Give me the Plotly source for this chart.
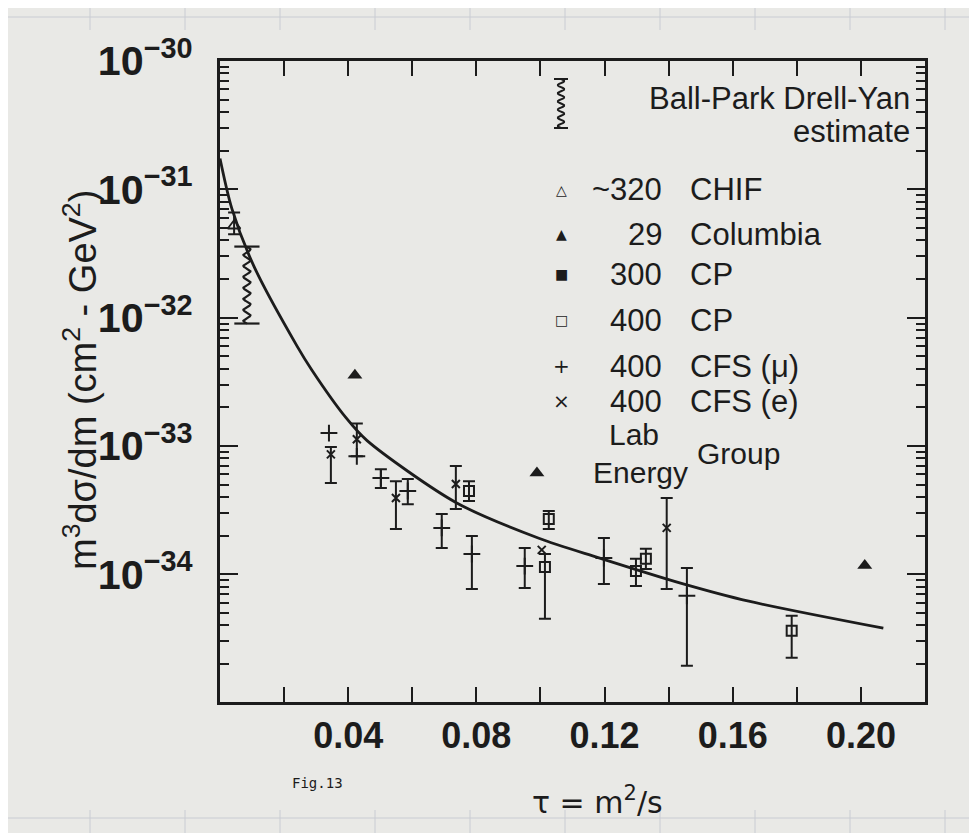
import numpy as np
import plotly.graph_objects as go

# ---------------- data ----------------
# smooth Drell-Yan type curve
curve_tau = [0.0, 0.0037, 0.0106, 0.0240, 0.0287, 0.0393, 0.0459, 0.0736,
             0.0995, 0.1180, 0.1440, 0.1650, 0.2070]
curve_val = [1.74e-31, 7.08e-32, 2.51e-32, 6.03e-33, 3.89e-33, 1.66e-33, 1.10e-33,
             3.63e-34, 1.91e-34, 1.35e-34, 8.5e-35, 6.17e-35, 3.8e-35]

# Ball-park Drell-Yan estimate band
dy_tau = 0.0084
dy_hi = 3.58e-32
dy_lo = 9.0e-33

# ~320 GeV CHIF (open triangle)
chif_tau = [0.0044]
chif_val = [5.2e-32]
chif_hi = [6.6e-32]
chif_lo = [4.46e-32]

# 29 GeV Columbia (filled triangles)
col_tau = [0.0421, 0.0989, 0.2012]
col_val = [3.56e-33, 6.17e-34, 1.17e-34]

# 400 GeV CP (open squares)
cp_tau = [0.0777, 0.1026, 0.1014, 0.1298, 0.1329, 0.1784]
cp_val = [4.46e-34, 2.70e-34, 1.14e-34, 1.06e-34, 1.32e-34, 3.63e-35]
cp_hi = [5.32e-34, 3.11e-34, 1.44e-34, 1.32e-34, 1.58e-34, 4.75e-35]
cp_lo = [3.72e-34, 2.25e-34, 4.5e-35, 8.1e-35, 1.10e-34, 2.24e-35]

# 400 GeV CFS (mu) (plus)
mu_tau = [0.0340, 0.0427, 0.0502, 0.0586, 0.0692, 0.0786, 0.0951, 0.1198, 0.1457]
mu_val = [1.26e-33, 8.3e-34, 5.62e-34, 4.46e-34, 2.30e-34, 1.44e-34, 1.16e-34, 1.34e-34, 6.8e-35]
mu_hi = [1.26e-33, 8.3e-34, 6.6e-34, 5.52e-34, 2.95e-34, 1.99e-34, 1.60e-34, 1.92e-34, 1.12e-34]
mu_lo = [1.26e-33, 8.3e-34, 4.7e-34, 3.52e-34, 1.60e-34, 7.7e-35, 7.83e-35, 8.4e-35, 1.94e-35]

# 400 GeV CFS (e) (cross)
e_tau = [0.0346, 0.0427, 0.0549, 0.0736, 0.1004, 0.1394]
e_val = [8.6e-34, 1.13e-33, 3.93e-34, 5.05e-34, 1.55e-34, 2.30e-34]
e_hi = [9.8e-34, 1.50e-33, 5.32e-34, 6.97e-34, 1.55e-34, 3.93e-34]
e_lo = [5.14e-34, 8.3e-34, 2.25e-34, 3.23e-34, 1.55e-34, 7.7e-35]

x_tickvals = [0.04, 0.08, 0.12, 0.16, 0.20]
x_ticktext = ["0.04", "0.08", "0.12", "0.16", "0.20"]

legend_rows = [("\u25b3", "~320", "CHIF"),
               ("\u25b2", "29", "Columbia"),
               ("\u25a0", "300", "CP"),
               ("\u25a1", "400", "CP"),
               ("+", "400", "CFS (\u03bc)"),
               ("\u00d7", "400", "CFS (e)")]

# ---------------- layout geometry (page pixel coordinates) ----------------
PAGE_W, PAGE_H = 977, 833
OFF = 8                      # browser body margin
W, H = PAGE_W - OFF, PAGE_H - OFF
PL, PR, PT, PB = 220, 925, 61, 702   # plot frame on the page
BG = "#e9e9e6"
INK = "#1c1c1c"
SANS = "Liberation Sans, Arial, Helvetica, sans-serif"


def px(xp):
    return (xp - PL) / (PR - PL)


def py(yp):
    return (PB - yp) / (PB - PT)


fig = go.Figure()

# curve
fig.add_trace(go.Scatter(x=curve_tau, y=curve_val, mode="lines",
                         line=dict(color=INK, width=2.8, shape="spline", smoothing=0.8),
                         hoverinfo="skip"))

# Drell-Yan wavy band (decorative wave between the two band limits)
n = 200
t = np.linspace(0, 1, n)
wave_y = np.exp(np.log(dy_hi) + (np.log(dy_lo) - np.log(dy_hi)) * t)
wave_x = dy_tau + 0.0011 * np.sin(2 * np.pi * 7 * t)
fig.add_trace(go.Scatter(x=wave_x, y=wave_y, mode="lines",
                         line=dict(color=INK, width=2.2), hoverinfo="skip"))
fig.add_trace(go.Scatter(x=[dy_tau, dy_tau], y=[dy_hi, dy_lo], mode="markers",
                         marker=dict(symbol="line-ew", size=18,
                                     line=dict(color=INK, width=2.2)),
                         hoverinfo="skip"))


def add_points(xs, ys, his, los, marker):
    xs, ys, his, los = map(np.asarray, (xs, ys, his, los))
    bar = (his > ys) | (los < ys)
    if bar.any():
        fig.add_trace(go.Scatter(
            x=xs[bar], y=ys[bar], mode="markers", marker=marker,
            error_y=dict(type="data", symmetric=False,
                         array=(his - ys)[bar], arrayminus=(ys - los)[bar],
                         color=INK, thickness=2, width=6)))
    if (~bar).any():
        fig.add_trace(go.Scatter(x=xs[~bar], y=ys[~bar], mode="markers", marker=marker))


add_points(chif_tau, chif_val, chif_hi, chif_lo,
           dict(symbol="triangle-up-open", size=11, color=INK, line=dict(color=INK, width=1.8)))
add_points(col_tau, col_val, col_val, col_val,
           dict(symbol="triangle-up", size=13, color=INK, line=dict(width=0)))
add_points(cp_tau, cp_val, cp_hi, cp_lo,
           dict(symbol="square-open", size=10, color=INK, line=dict(color=INK, width=2)))
add_points(mu_tau, mu_val, mu_hi, mu_lo,
           dict(symbol="cross-thin", size=12, color=INK, line=dict(color=INK, width=2)))
add_points(e_tau, e_val, e_hi, e_lo,
           dict(symbol="x-thin", size=8, color=INK, line=dict(color=INK, width=2)))

# ---------------- legend (drawn as text) ----------------
LF = 31
ann = []
ann.append(dict(x=px(912), y=py(98), text="Ball-Park Drell-Yan", xanchor="right",
                yanchor="middle", font=dict(family=SANS, size=LF, color=INK)))
ann.append(dict(x=px(912), y=py(132), text="estimate", xanchor="right",
                yanchor="middle", font=dict(family=SANS, size=LF, color=INK)))
row_y = [190, 234, 274, 320, 366, 401]
for (sym, en, grp), yy in zip(legend_rows, row_y):
    ann.append(dict(x=px(561), y=py(yy), text=sym, xanchor="center", yanchor="middle",
                    font=dict(family="DejaVu Sans", size=14 if sym not in "+\u00d7" else 20,
                              color=INK)))
    ann.append(dict(x=px(664), y=py(yy), text=en, xanchor="right", yanchor="middle",
                    font=dict(family=SANS, size=LF, color=INK)))
    ann.append(dict(x=px(688), y=py(yy), text=grp, xanchor="left", yanchor="middle",
                    font=dict(family=SANS, size=LF, color=INK)))
ann.append(dict(x=px(634), y=py(434), text="Lab", xanchor="center", yanchor="middle",
                font=dict(family=SANS, size=30, color=INK)))
ann.append(dict(x=px(640), y=py(472), text="Energy", xanchor="center", yanchor="middle",
                font=dict(family=SANS, size=30, color=INK)))
ann.append(dict(x=px(695), y=py(453), text="Group", xanchor="left", yanchor="middle",
                font=dict(family=SANS, size=30, color=INK)))

# axis titles and figure label
ann.append(dict(x=px(80), y=py(380), text="m<sup>3</sup>d\u03c3/dm (cm<sup>2</sup> - GeV<sup>2</sup>)",
                textangle=-90, xanchor="center", yanchor="middle",
                font=dict(family=SANS, size=38, color=INK)))
ann.append(dict(x=px(597), y=py(800), text="\u03c4 = m<sup>2</sup>/s", xanchor="center",
                yanchor="middle", font=dict(family="DejaVu Sans", size=30, color=INK)))
ann.append(dict(x=px(317), y=py(783), text="Fig.13", xanchor="center", yanchor="middle",
                font=dict(family="DejaVu Sans Mono, Liberation Mono, monospace", size=14, color=INK)))
for a in ann:
    a.update(xref="paper", yref="paper", showarrow=False)

# legend wavy glyph (paper coordinates)
gx, gy0, gy1 = 561, 79, 128
pts = []
m = 60
for i in range(m + 1):
    f = i / m
    xx = gx + 3.2 * np.sin(2 * np.pi * 6 * f)
    yy = gy0 + (gy1 - gy0) * f
    pts.append((px(xx), py(yy)))
path = "M " + " L ".join(f"{a:.5f},{b:.5f}" for a, b in pts)
shapes = [dict(type="path", path=path, xref="paper", yref="paper",
               line=dict(color=INK, width=2))]
for yy in (gy0, gy1):
    shapes.append(dict(type="line", xref="paper", yref="paper", x0=px(gx - 7), x1=px(gx + 7),
                       y0=py(yy), y1=py(yy), line=dict(color=INK, width=2)))

# faint graph-paper lines of the scanned sheet
GRID = "#c9ccd3"
shapes.append(dict(type="line", xref="paper", yref="paper", x0=px(OFF), x1=px(PAGE_W),
                   y0=py(17), y1=py(17), line=dict(color=GRID, width=1)))
shapes.append(dict(type="line", xref="paper", yref="paper", x0=px(OFF), x1=px(PAGE_W),
                   y0=py(818), y1=py(818), line=dict(color=GRID, width=1)))
for gxp in range(90, PAGE_W, 95):
    shapes.append(dict(type="line", xref="paper", yref="paper", x0=px(gxp), x1=px(gxp),
                       y0=py(OFF), y1=py(30), line=dict(color=GRID, width=1)))
    shapes.append(dict(type="line", xref="paper", yref="paper", x0=px(gxp), x1=px(gxp),
                       y0=py(810), y1=py(PAGE_H), line=dict(color=GRID, width=1)))

fig.update_layout(
    width=W, height=H,
    margin=dict(l=PL - OFF, r=PAGE_W - PR, t=PT - OFF, b=PAGE_H - PB, pad=0),
    paper_bgcolor=BG, plot_bgcolor=BG,
    showlegend=False,
    annotations=ann, shapes=shapes,
)
fig.update_xaxes(range=[0, 0.22], tickmode="array", tickvals=x_tickvals, ticktext=x_ticktext,
                 ticks="inside", ticklen=15, tickwidth=2, tickcolor=INK,
                 minor=dict(ticks="inside", ticklen=15, tickwidth=2, tickcolor=INK,
                            tickmode="linear", tick0=0, dtick=0.02, showgrid=False),
                 showline=True, linecolor=INK, linewidth=2.5, mirror="ticks",
                 showgrid=False, zeroline=False, automargin=False,
                 tickfont=dict(family=SANS, size=36, color=INK, weight="bold"))
fig.update_yaxes(type="log", range=[-34.995, -30], dtick=1, exponentformat="power",
                 showexponent="all",
                 ticks="inside", ticklen=18, tickwidth=2, tickcolor=INK,
                 minor=dict(ticks="inside", ticklen=9, tickwidth=1.6, tickcolor=INK,
                            dtick="D1", showgrid=False),
                 showline=True, linecolor=INK, linewidth=2.5, mirror="ticks",
                 showgrid=False, zeroline=False, ticklabelstandoff=18, automargin=False,
                 tickfont=dict(family=SANS, size=33, color=INK, weight="bold"))

fig.write_html("out.html")
